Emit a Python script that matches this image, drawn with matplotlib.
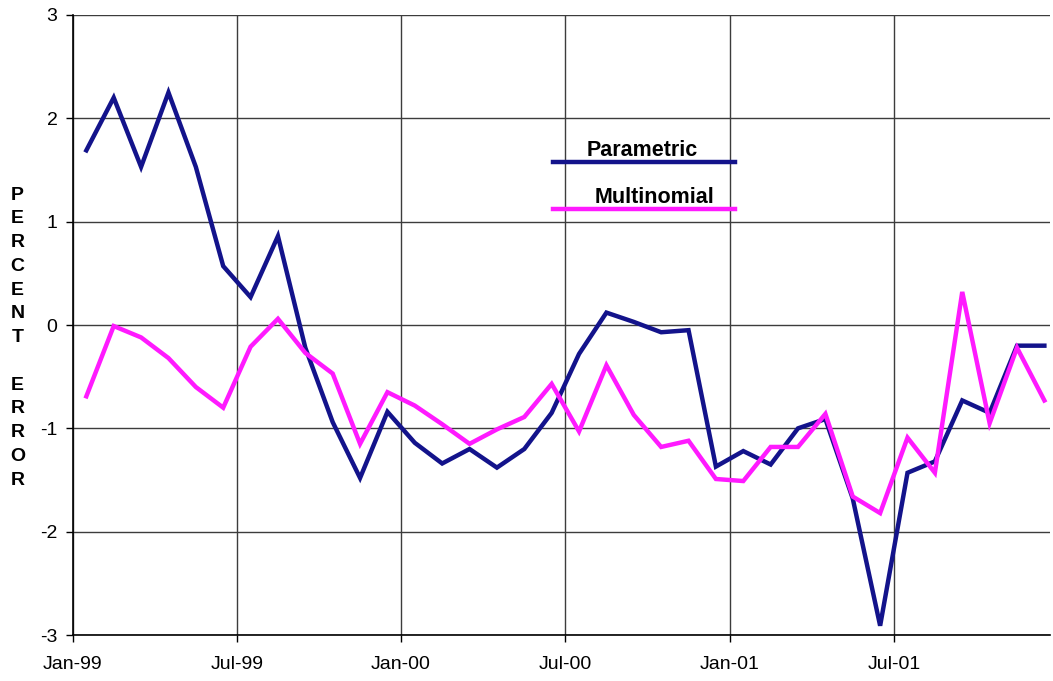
import matplotlib
matplotlib.use('Agg')
import matplotlib.pyplot as plt
import numpy as np

plt.rcParams['font.family'] = ['Liberation Sans', 'DejaVu Sans']

# monthly percent errors, Jan-99 .. Dec-01
parametric = [1.69, 2.20, 1.53, 2.25, 1.53, 0.57, 0.27, 0.86, -0.22, -0.94,
              -1.48, -0.84, -1.14, -1.34, -1.20, -1.38, -1.20, -0.85, -0.28, 0.12,
              0.03, -0.07, -0.05, -1.37, -1.22, -1.35, -1.00, -0.91, -1.68, -2.91,
              -1.43, -1.32, -0.73, -0.85, -0.20, -0.20]
multinomial = [-0.69, -0.01, -0.12, -0.32, -0.60, -0.80, -0.21, 0.06, -0.27, -0.47,
               -1.15, -0.65, -0.78, -0.96, -1.15, -1.01, -0.89, -0.57, -1.03, -0.39,
               -0.87, -1.18, -1.12, -1.49, -1.51, -1.18, -1.18, -0.86, -1.66, -1.82,
               -1.09, -1.43, 0.32, -0.95, -0.22, -0.73]
tick_months = [0, 6, 12, 18, 24, 30]
tick_labels = ['Jan-99', 'Jul-99', 'Jan-00', 'Jul-00', 'Jan-01', 'Jul-01']
y_ticks = [-3, -2, -1, 0, 1, 2, 3]

NAVY = '#13138b'
MAGENTA = '#ff1aff'

fig = plt.figure(figsize=(10.53, 6.81), dpi=100)
ax = fig.add_axes([0.069, 0.0675, 0.928, 0.9105])

# points sit mid-month
x = np.arange(len(parametric)) + 0.5
ax.plot(x, parametric, color=NAVY, lw=3.2, solid_joinstyle='miter')
ax.plot(x, multinomial, color=MAGENTA, lw=3.2, solid_joinstyle='miter')

ax.set_xlim(0, 35.7)
ax.set_ylim(-3, 3)
ax.set_xticks(tick_months)
ax.set_xticklabels(tick_labels, fontsize=14)
ax.set_yticks(y_ticks)
ax.set_yticklabels([str(v) for v in y_ticks], fontsize=14)
ax.tick_params(direction='out', length=5, width=1, color='black', pad=6)
ax.tick_params(axis='x', pad=10)

ax.grid(True, color='#3c3c3c', lw=1)
ax.set_axisbelow(True)
for s in ['top', 'right']:
    ax.spines[s].set_visible(False)
for s in ['left', 'bottom']:
    ax.spines[s].set_color('black')
    ax.spines[s].set_linewidth(1.2)

# stacked letters for the y label
fig.text(0.0165, 0.726, '\n'.join('PERCENT') + '\n\n' + '\n'.join('ERROR'),
         fontsize=14, fontweight='bold', ha='center', va='top', linespacing=1.52)

# hand-drawn legend like the original
ax.plot([0.4916, 0.678], [0.763, 0.763], transform=ax.transAxes, color=NAVY, lw=3.2)
ax.plot([0.4916, 0.678], [0.687, 0.687], transform=ax.transAxes, color=MAGENTA, lw=3.2)
ax.text(0.583, 0.765, 'Parametric', transform=ax.transAxes, fontsize=15.5,
        fontweight='bold', ha='center', va='bottom')
ax.text(0.595, 0.689, 'Multinomial', transform=ax.transAxes, fontsize=15.5,
        fontweight='bold', ha='center', va='bottom')

fig.savefig('out.png', dpi=100)
